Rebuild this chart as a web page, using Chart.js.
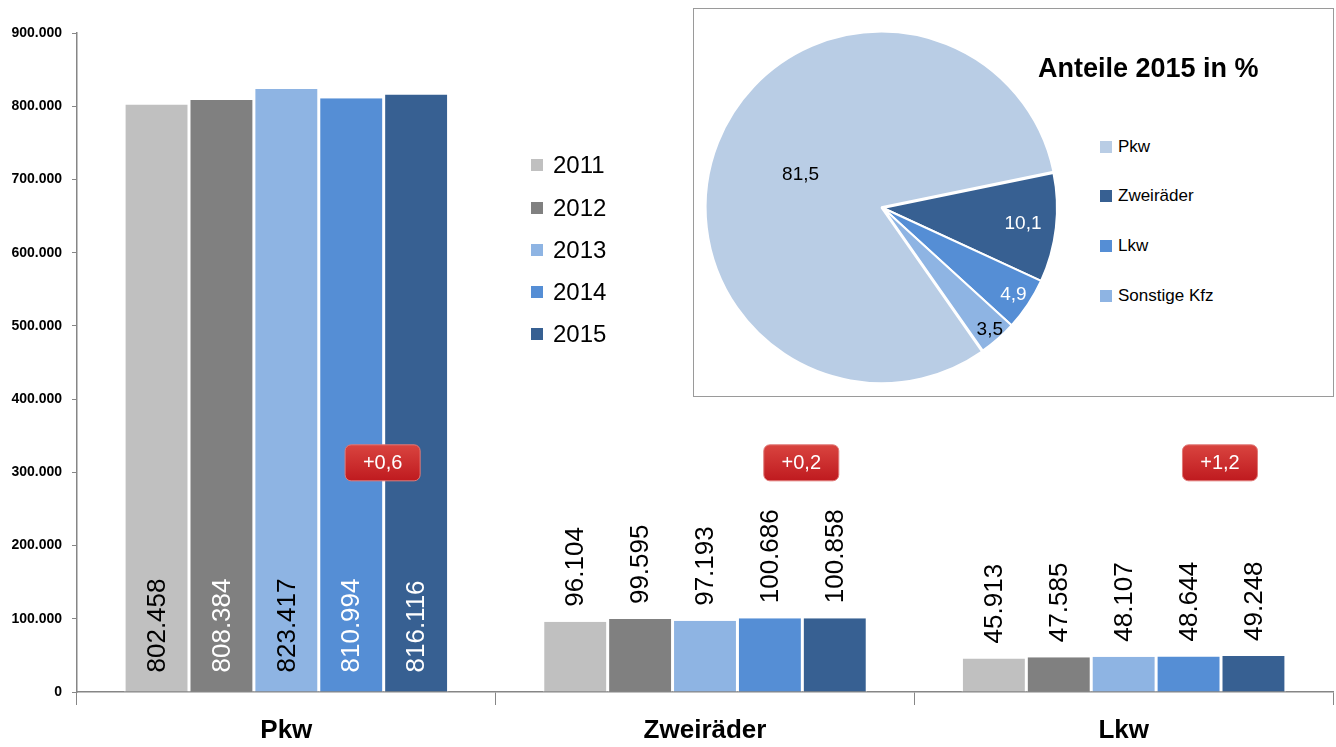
<!DOCTYPE html>
<html>
<head>
<meta charset="utf-8">
<script src="https://cdn.jsdelivr.net/npm/chart.js@4.4.1/dist/chart.umd.min.js"></script>
<style>
  body { margin: 0; background: #fff; font-family: "Liberation Sans", Arial, sans-serif; }
  #wrap { position: relative; width: 1336px; height: 747px; }
  #barChart { position: absolute; left: 0; top: 0; }
  .yleg { position: absolute; left: 531px; font-size: 24px; line-height: 28px; color: #000; }
  .yleg span { display: inline-block; width: 12px; height: 12px; margin-right: 10px; vertical-align: 2px; }
  #inset { position: absolute; left: 693px; top: 8px; width: 639px; height: 387px; border: 1px solid #9a9a9a; background: #fff; }
  #pieChart { position: absolute; left: -1px; top: 9px; }
  #pieTitle { position: absolute; left: 344px; top: 44px; font-weight: bold; font-size: 27px; color: #000; white-space: nowrap; }
  .pleg { position: absolute; left: 406px; font-size: 17px; line-height: 20px; color: #000; white-space: nowrap; }
  .pleg span { display: inline-block; width: 12px; height: 12px; margin-right: 6px; vertical-align: -1px; }
</style>
</head>
<body>
<div id="wrap">
  <canvas id="barChart" width="1336" height="747"></canvas>
  <div id="barLegend"></div>
  <div id="inset">
    <canvas id="pieChart" width="380" height="380"></canvas>
    <div id="pieTitle">Anteile 2015 in %</div>
    <div id="pieLegend"></div>
  </div>
</div>
<script>
// data
const categories = ['Pkw', 'Zweiräder', 'Lkw'];
const years = ['2011', '2012', '2013', '2014', '2015'];
const v2011 = [802458, 96104, 45913];
const v2012 = [808384, 99595, 47585];
const v2013 = [823417, 97193, 48107];
const v2014 = [810994, 100686, 48644];
const v2015 = [816116, 100858, 49248];
const changes = ['+0,6', '+0,2', '+1,2'];
const yMax = 900000;
const yStep = 100000;

const pieLabels = ['Pkw', 'Zweiräder', 'Lkw', 'Sonstige Kfz'];
const pieShares = [81.5, 10.1, 4.9, 3.5];

// styles
const yearColors = ['#c0c0c0', '#808080', '#8eb4e3', '#558ed5', '#376092'];
const insideColors = ['#000', '#fff', '#000', '#fff', '#fff'];
const pieColors = ['#b9cde5', '#376092', '#558ed5', '#8eb4e3'];
const pieTextColors = ['#000', '#fff', '#fff', '#000'];
const pieLabelRadius = [0.51, 0.81, 0.9, 0.93];
const axisColor = '#868686';
const fmt = v => v.toLocaleString('de-DE');

var allValues = [v2011, v2012, v2013, v2014, v2015];

var barLabelPlugin = {
  id: 'barLabels',
  afterDatasetsDraw: function(chart) {
    var ctx = chart.ctx;
    ctx.save();
    ctx.font = '26px "Liberation Sans", Arial, sans-serif';
    ctx.textAlign = 'left';
    ctx.textBaseline = 'middle';
    chart.data.datasets.forEach(function(ds, di) {
      chart.getDatasetMeta(di).data.forEach(function(bar, i) {
        var y0, color;
        if (i === 0) {
          y0 = bar.base - 19;
          color = insideColors[di];
        } else {
          y0 = bar.y - 15;
          color = '#000';
        }
        ctx.save();
        ctx.translate(bar.x, y0);
        ctx.rotate(-Math.PI / 2);
        ctx.fillStyle = color;
        ctx.fillText(fmt(ds.data[i]), 0, 1);
        ctx.restore();
      });
    });

    // change badges
    var xs = chart.scales.x, ys = chart.scales.y;
    var catW = xs.getPixelForValue(1) - xs.getPixelForValue(0);
    changes.forEach(function(txt, i) {
      var cx = xs.getPixelForValue(i) + 0.23 * catW;
      var cy = ys.getPixelForValue(313000);
      var w = 75, h = 36;
      var g = ctx.createLinearGradient(0, cy - h / 2, 0, cy + h / 2);
      g.addColorStop(0, '#d9443f');
      g.addColorStop(1, '#bf1a1f');
      ctx.beginPath();
      ctx.roundRect(cx - w / 2, cy - h / 2, w, h, 6);
      ctx.fillStyle = g;
      ctx.fill();
      ctx.lineWidth = 1;
      ctx.strokeStyle = '#e07a78';
      ctx.stroke();
      ctx.fillStyle = '#fff';
      ctx.font = '20px "Liberation Sans", Arial, sans-serif';
      ctx.textAlign = 'center';
      ctx.textBaseline = 'middle';
      ctx.fillText(txt, cx, cy + 1);
    });
    ctx.restore();
  }
};

new Chart(document.getElementById('barChart'), {
  type: 'bar',
  data: {
    labels: categories,
    datasets: years.map(function(y, i) {
      return {
        label: y,
        data: allValues[i],
        backgroundColor: yearColors[i],
        borderColor: '#ffffff',
        borderWidth: { left: 1.5, right: 1.5, top: 0, bottom: 0 },
        categoryPercentage: 0.775,
        barPercentage: 1
      };
    })
  },
  options: {
    responsive: false,
    animation: false,
    layout: { padding: { top: 33, right: 3, left: 0, bottom: 0 } },
    plugins: { legend: { display: false }, tooltip: { enabled: false } },
    scales: {
      x: {
        afterFit: function(s) { s.height = 55; },
        grid: { drawOnChartArea: false, offset: true, tickLength: 13, color: axisColor },
        border: { color: axisColor, width: 1.5 },
        ticks: {
          color: '#000',
          padding: 10,
          font: { family: '"Liberation Sans", Arial, sans-serif', size: 26, weight: 'bold' }
        }
      },
      y: {
        min: 0,
        max: yMax,
        afterFit: function(s) { s.width = 77; },
        grid: { drawOnChartArea: false, tickLength: 5, color: axisColor },
        border: { color: axisColor, width: 1.5 },
        ticks: {
          stepSize: yStep,
          padding: 10,
          color: '#000',
          font: { family: '"Liberation Sans", Arial, sans-serif', size: 14, weight: 'bold' },
          callback: function(value) { return fmt(value); }
        }
      }
    }
  },
  plugins: [barLabelPlugin]
});

// legend for years
var barLegend = document.getElementById('barLegend');
var legTops = [151, 194, 236, 278, 320];
years.forEach(function(y, i) {
  var d = document.createElement('div');
  d.className = 'yleg';
  d.style.top = legTops[i] + 'px';
  d.innerHTML = '<span style="background:' + yearColors[i] + '"></span>' + y;
  barLegend.appendChild(d);
});

// pie inset
var pieLabelPlugin = {
  id: 'pieLabels',
  afterDatasetsDraw: function(chart) {
    var ctx = chart.ctx;
    var meta = chart.getDatasetMeta(0);
    ctx.save();
    ctx.font = '19px "Liberation Sans", Arial, sans-serif';
    ctx.textAlign = 'center';
    ctx.textBaseline = 'middle';
    meta.data.forEach(function(arc, i) {
      var a = (arc.startAngle + arc.endAngle) / 2;
      var r = arc.outerRadius * pieLabelRadius[i];
      ctx.fillStyle = pieTextColors[i];
      ctx.fillText(String(pieShares[i]).replace('.', ','), arc.x + Math.cos(a) * r, arc.y + Math.sin(a) * r);
    });
    ctx.restore();
  }
};

new Chart(document.getElementById('pieChart'), {
  type: 'pie',
  data: {
    labels: pieLabels,
    datasets: [{
      data: pieShares,
      backgroundColor: pieColors,
      borderColor: '#ffffff',
      borderWidth: 2,
      offset: [7, 0, 0, 0]
    }]
  },
  options: {
    responsive: false,
    animation: false,
    rotation: 145,
    radius: 174,
    plugins: { legend: { display: false }, tooltip: { enabled: false } }
  },
  plugins: [pieLabelPlugin]
});

var pieLegend = document.getElementById('pieLegend');
var pieLegTops = [128, 177, 227, 277];
pieLabels.forEach(function(l, i) {
  var d = document.createElement('div');
  d.className = 'pleg';
  d.style.top = pieLegTops[i] + 'px';
  d.innerHTML = '<span style="background:' + pieColors[i] + '"></span>' + l;
  pieLegend.appendChild(d);
});
</script>
</body>
</html>
